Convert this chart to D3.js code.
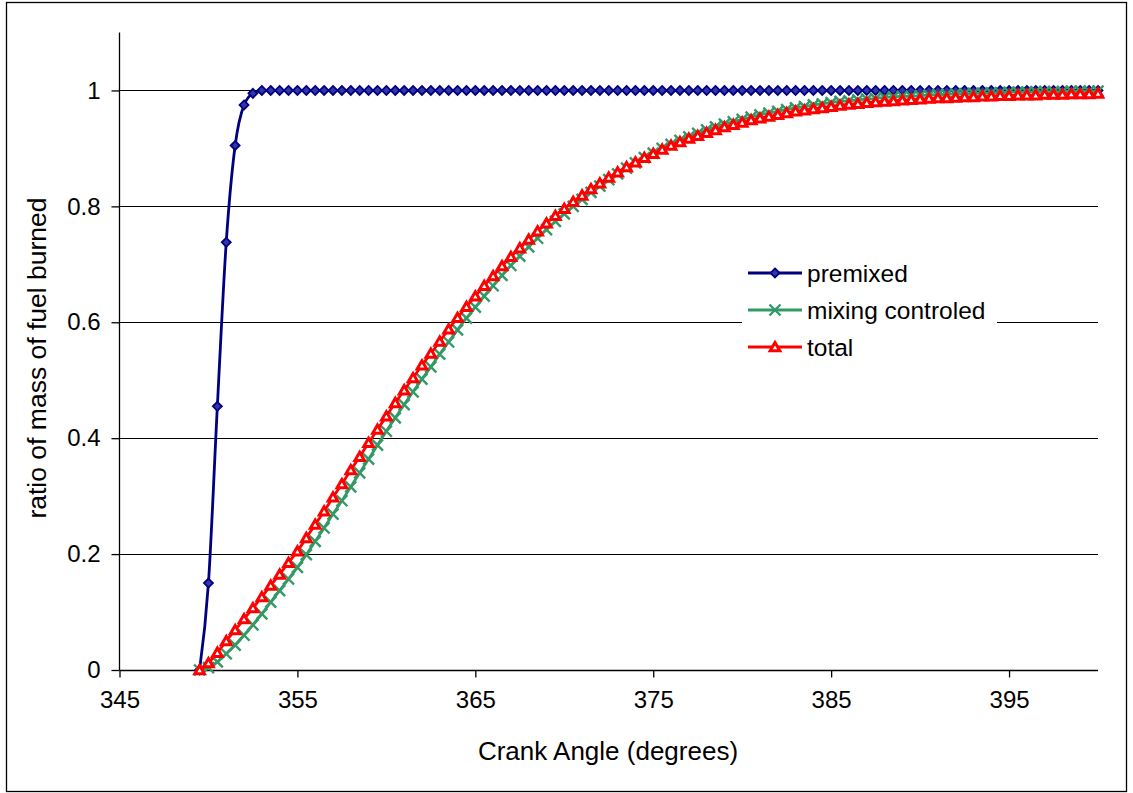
<!DOCTYPE html>
<html>
<head>
<meta charset="utf-8">
<script src="https://d3js.org/d3.v7.min.js"></script>
<style>
  body { margin: 0; background: #fff; }
  text { font-family: "Liberation Sans", Arial, sans-serif; fill: #000; }
</style>
</head>
<body>
<svg width="1133" height="793"></svg>
<script>
// crank angle, degrees (every half degree)
const angles = [
  349.5, 350, 350.5, 351, 351.5, 352, 352.5, 353, 353.5, 354, 354.5, 355, 355.5, 356, 356.5, 357, 357.5, 358, 358.5, 359, 359.5,
  360, 360.5, 361, 361.5, 362, 362.5, 363, 363.5, 364, 364.5, 365, 365.5, 366, 366.5, 367, 367.5, 368, 368.5, 369, 369.5,
  370, 370.5, 371, 371.5, 372, 372.5, 373, 373.5, 374, 374.5, 375, 375.5, 376, 376.5, 377, 377.5, 378, 378.5, 379, 379.5,
  380, 380.5, 381, 381.5, 382, 382.5, 383, 383.5, 384, 384.5, 385, 385.5, 386, 386.5, 387, 387.5, 388, 388.5, 389, 389.5,
  390, 390.5, 391, 391.5, 392, 392.5, 393, 393.5, 394, 394.5, 395, 395.5, 396, 396.5, 397, 397.5, 398, 398.5, 399, 399.5, 400
];

const premixed = [
  0, 0.15, 0.455, 0.738, 0.905, 0.975, 0.995, 1, 1, 1, 1, 1, 1, 1, 1, 1, 1, 1, 1, 1, 1,
  1, 1, 1, 1, 1, 1, 1, 1, 1, 1, 1, 1, 1, 1, 1, 1, 1, 1, 1, 1,
  1, 1, 1, 1, 1, 1, 1, 1, 1, 1, 1, 1, 1, 1, 1, 1, 1, 1, 1, 1,
  1, 1, 1, 1, 1, 1, 1, 1, 1, 1, 1, 1, 1, 1, 1, 1, 1, 1, 1, 1,
  1, 1, 1, 1, 1, 1, 1, 1, 1, 1, 1, 1, 1, 1, 1, 1, 1, 1, 1, 1, 1
];

const mixing = [
  0, 0.004, 0.014, 0.028, 0.043, 0.060, 0.078, 0.097, 0.117, 0.137, 0.157, 0.177, 0.199, 0.222, 0.245, 0.269, 0.292, 0.316, 0.340, 0.364, 0.388,
  0.412, 0.435, 0.458, 0.480, 0.502, 0.523, 0.545, 0.566, 0.587, 0.607, 0.626, 0.645, 0.663, 0.681, 0.698, 0.714, 0.730, 0.745, 0.760, 0.774,
  0.787, 0.800, 0.812, 0.824, 0.835, 0.846, 0.856, 0.866, 0.875, 0.884, 0.892, 0.900, 0.907, 0.914, 0.920, 0.926, 0.932, 0.937, 0.942, 0.946,
  0.950, 0.954, 0.958, 0.961, 0.964, 0.967, 0.970, 0.972, 0.975, 0.977, 0.979, 0.981, 0.982, 0.984, 0.985, 0.986, 0.988, 0.989, 0.990, 0.990,
  0.991, 0.992, 0.993, 0.993, 0.994, 0.994, 0.995, 0.995, 0.996, 0.996, 0.997, 0.997, 0.997, 0.998, 0.998, 0.998, 0.998, 0.999, 0.999, 0.999, 0.999
];

const total = [
  0, 0.012, 0.030, 0.050, 0.069, 0.088, 0.107, 0.126, 0.146, 0.165, 0.185, 0.205, 0.228, 0.251, 0.274, 0.298, 0.321, 0.345, 0.368, 0.392, 0.415,
  0.438, 0.461, 0.483, 0.504, 0.526, 0.546, 0.567, 0.588, 0.608, 0.627, 0.645, 0.663, 0.680, 0.697, 0.713, 0.728, 0.743, 0.757, 0.771, 0.784,
  0.796, 0.808, 0.819, 0.830, 0.840, 0.850, 0.859, 0.868, 0.876, 0.884, 0.891, 0.898, 0.905, 0.911, 0.917, 0.922, 0.927, 0.932, 0.937, 0.941,
  0.945, 0.949, 0.952, 0.955, 0.958, 0.961, 0.964, 0.966, 0.968, 0.970, 0.972, 0.974, 0.976, 0.977, 0.979, 0.980, 0.981, 0.982, 0.983, 0.984,
  0.985, 0.986, 0.987, 0.987, 0.988, 0.989, 0.989, 0.990, 0.990, 0.991, 0.991, 0.992, 0.992, 0.992, 0.993, 0.993, 0.993, 0.994, 0.994, 0.994, 0.995
];

const xTicks = [345, 355, 365, 375, 385, 395];
const yTicks = [0, 0.2, 0.4, 0.6, 0.8, 1];

const seriesNames = ['premixed', 'mixing controled', 'total'];
const seriesColors = ['#000080', '#339966', '#ff0000'];
const seriesMarkers = ['diamond', 'cross', 'triangle'];
const seriesValues = [premixed, mixing, total];

const svg = d3.select('svg');

// outer chart border
svg.append('rect')
  .attr('x', 6.5).attr('y', 2.5)
  .attr('width', 1120).attr('height', 789)
  .attr('fill', '#fff')
  .attr('stroke', '#000')
  .attr('stroke-width', 1.3);

const x = d3.scaleLinear().domain([345, 400]).range([119.5, 1098]);
const y = d3.scaleLinear().domain([0, 1.1]).range([670, 32.5]);

// gridlines
svg.append('g')
  .selectAll('line')
  .data(yTicks.filter(d => d > 0))
  .join('line')
  .attr('x1', x(345)).attr('x2', x(400))
  .attr('y1', d => Math.round(y(d)) + 0.5).attr('y2', d => Math.round(y(d)) + 0.5)
  .attr('stroke', '#000')
  .attr('stroke-width', 1);

// axes
const xAxis = d3.axisBottom(x).tickValues(xTicks).tickSize(7).tickPadding(13).tickFormat(d3.format('d'));
const yAxis = d3.axisLeft(y).tickValues(yTicks).tickSize(8).tickPadding(11).tickFormat(d => d === 0 || d === 1 ? d : d.toFixed(1));

const xAxisG = svg.append('g')
  .attr('transform', 'translate(0,670.5)')
  .call(xAxis);
const yAxisG = svg.append('g')
  .attr('transform', 'translate(119.5,0)')
  .call(yAxis);

[xAxisG, yAxisG].forEach(g => {
  g.selectAll('.domain').attr('stroke', '#000').attr('stroke-width', 1.3);
  g.selectAll('.tick line').attr('stroke', '#000').attr('stroke-width', 1.3);
  g.selectAll('.tick text')
    .attr('fill', '#000')
    .style('font-family', '"Liberation Sans", Arial, sans-serif')
    .style('font-size', '24px');
});
yAxisG.select('.domain').attr('d', `M0,${y(1.1)}V${y(0)}`);
xAxisG.select('.domain').attr('d', `M${x(345)},0H${x(400)}`);

// axis titles
svg.append('text')
  .attr('x', 608)
  .attr('y', 760)
  .attr('text-anchor', 'middle')
  .style('font-size', '26px')
  .text('Crank Angle (degrees)');

svg.append('text')
  .attr('transform', 'translate(46,358) rotate(-90)')
  .attr('text-anchor', 'middle')
  .style('font-size', '26.5px')
  .text('ratio of mass of fuel burned');

// marker shapes
function drawMarker(sel, type, color) {
  if (type === 'diamond') {
    sel.append('path')
      .attr('d', 'M0,-4.5L4.5,0L0,4.5L-4.5,0Z')
      .attr('fill', '#3333aa')
      .attr('stroke', color)
      .attr('stroke-width', 1.8);
  } else if (type === 'cross') {
    sel.append('path')
      .attr('d', 'M-5.5,-5.5L5.5,5.5M-5.5,5.5L5.5,-5.5')
      .attr('fill', 'none')
      .attr('stroke', color)
      .attr('stroke-width', 2.4);
  } else {
    sel.append('path')
      .attr('d', 'M0,-4.5L4.8,3.8L-4.8,3.8Z')
      .attr('fill', '#fff')
      .attr('stroke', color)
      .attr('stroke-width', 3);
  }
}

const line = d3.line()
  .x((d, i) => x(angles[i]))
  .y(d => y(d))
  .curve(d3.curveMonotoneX);

const plot = svg.append('g');

seriesValues.forEach((vals, k) => {
  const g = plot.append('g');
  g.append('path')
    .datum(vals)
    .attr('d', line)
    .attr('fill', 'none')
    .attr('stroke', seriesColors[k])
    .attr('stroke-width', 2.8);

  g.selectAll('g.mk')
    .data(vals)
    .join('g')
    .attr('class', 'mk')
    .attr('transform', (d, i) => `translate(${x(angles[i])},${y(d)})`)
    .each(function () { drawMarker(d3.select(this), seriesMarkers[k], seriesColors[k]); });
});

// legend
const legend = svg.append('g');
legend.append('rect')
  .attr('x', 742).attr('y', 254)
  .attr('width', 255).attr('height', 112)
  .attr('fill', '#fff');

seriesNames.forEach((name, k) => {
  const ly = 273 + k * 37;
  const row = legend.append('g');
  row.append('line')
    .attr('x1', 748).attr('x2', 802)
    .attr('y1', ly).attr('y2', ly)
    .attr('stroke', seriesColors[k])
    .attr('stroke-width', 2.8);
  const m = row.append('g').attr('transform', `translate(775,${ly})`);
  drawMarker(m, seriesMarkers[k], seriesColors[k]);
  row.append('text')
    .attr('x', 807)
    .attr('y', ly + 8.5)
    .style('font-size', '24.5px')
    .text(name);
});
</script>
</body>
</html>
